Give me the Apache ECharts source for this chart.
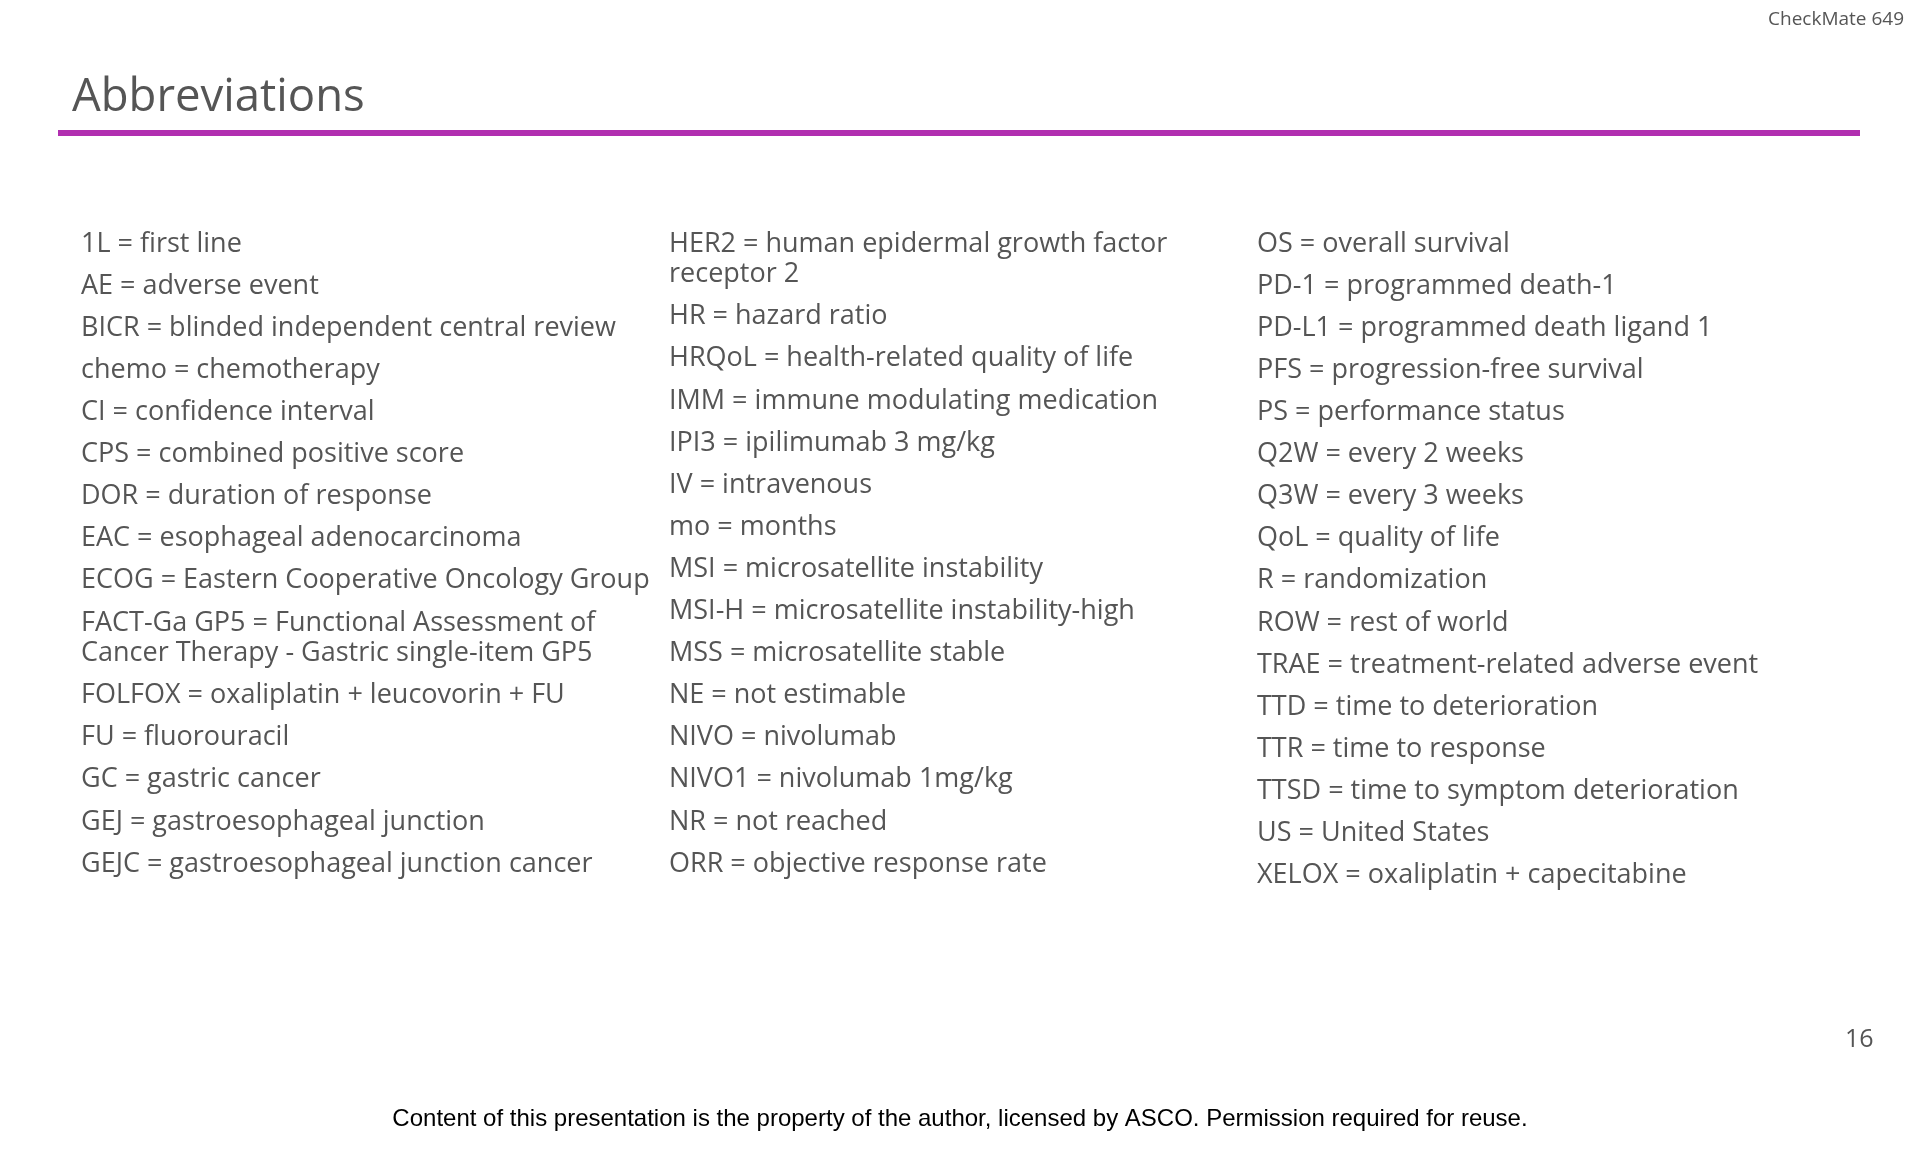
<!DOCTYPE html>
<html>
<head>
<meta charset="utf-8">
<script src="https://cdn.jsdelivr.net/npm/echarts@6/dist/echarts.min.js"></script>
<style>
html,body{margin:0;padding:0;background:#fff;}
#chart{width:1920px;height:1152px;}
</style>
</head>
<body>
<div id="chart"></div>
<script>
const titleText = "Abbreviations";
const studyLabel = "CheckMate 649";
const pageNumber = "16";
const footerText = "Content of this presentation is the property of the author, licensed by ASCO. Permission required for reuse.";

const column1 = [
  "1L = first line",
  "AE = adverse event",
  "BICR = blinded independent central review",
  "chemo = chemotherapy",
  "CI = confidence interval",
  "CPS = combined positive score",
  "DOR = duration of response",
  "EAC = esophageal adenocarcinoma",
  "ECOG = Eastern Cooperative Oncology Group",
  "FACT-Ga GP5 = Functional Assessment of\nCancer Therapy - Gastric single-item GP5",
  "FOLFOX = oxaliplatin + leucovorin + FU",
  "FU = fluorouracil",
  "GC = gastric cancer",
  "GEJ = gastroesophageal junction",
  "GEJC = gastroesophageal junction cancer"
];
const column2 = [
  "HER2 = human epidermal growth factor\nreceptor 2",
  "HR = hazard ratio",
  "HRQoL = health-related quality of life",
  "IMM = immune modulating medication",
  "IPI3 = ipilimumab 3 mg/kg",
  "IV = intravenous",
  "mo = months",
  "MSI = microsatellite instability",
  "MSI-H = microsatellite instability-high",
  "MSS = microsatellite stable",
  "NE = not estimable",
  "NIVO = nivolumab",
  "NIVO1 = nivolumab 1mg/kg",
  "NR = not reached",
  "ORR = objective response rate"
];
const column3 = [
  "OS = overall survival",
  "PD-1 = programmed death-1",
  "PD-L1 = programmed death ligand 1",
  "PFS = progression-free survival",
  "PS = performance status",
  "Q2W = every 2 weeks",
  "Q3W = every 3 weeks",
  "QoL = quality of life",
  "R = randomization",
  "ROW = rest of world",
  "TRAE = treatment-related adverse event",
  "TTD = time to deterioration",
  "TTR = time to response",
  "TTSD = time to symptom deterioration",
  "US = United States",
  "XELOX = oxaliplatin + capecitabine"
];

const chart = echarts.init(document.getElementById('chart'), null, {renderer: 'canvas'});
const BODY_FONT = '"Open Sans", "Noto Sans", sans-serif';
const TEXT_COLOR = '#555555';
const colX = [81, 669, 1257];
const firstCenterY = 244;
const itemGap = 42.1;
const wrapLine = 30.6;
const fontSize = 27;

const graphics = [];
[column1, column2, column3].forEach((col, ci) => {
  let y = firstCenterY;
  col.forEach((item) => {
    const n = item.split('\n').length;
    graphics.push({
      type: 'text',
      left: colX[ci],
      top: y - wrapLine / 2,
      style: {
        text: item,
        fontSize: fontSize,
        fontFamily: BODY_FONT,
        fill: TEXT_COLOR,
        lineHeight: wrapLine
      }
    });
    y += (n - 1) * wrapLine + itemGap;
  });
});

graphics.push({
  type: 'text', left: 72, top: 75,
  style: {text: titleText, fontSize: 45.5, fontFamily: BODY_FONT, fill: '#555555'}
});
graphics.push({
  type: 'rect', shape: {x: 58, y: 130, width: 1802, height: 6},
  style: {fill: '#B12FB0'}
});
graphics.push({
  type: 'text', right: 16, top: 10,
  style: {text: studyLabel, fontSize: 19, fontFamily: BODY_FONT, fill: '#555555'}
});
graphics.push({
  type: 'text', left: 1845, top: 1027,
  style: {text: pageNumber, fontSize: 25, fontFamily: BODY_FONT, fill: '#555555'}
});
graphics.push({
  type: 'text', left: 'center', top: 1107,
  style: {text: footerText, fontSize: 24, fontFamily: '"Liberation Sans", Arial, sans-serif', fill: '#000000'}
});

chart.setOption({
  backgroundColor: '#ffffff',
  animation: false,
  graphic: graphics
});
</script>
</body>
</html>
